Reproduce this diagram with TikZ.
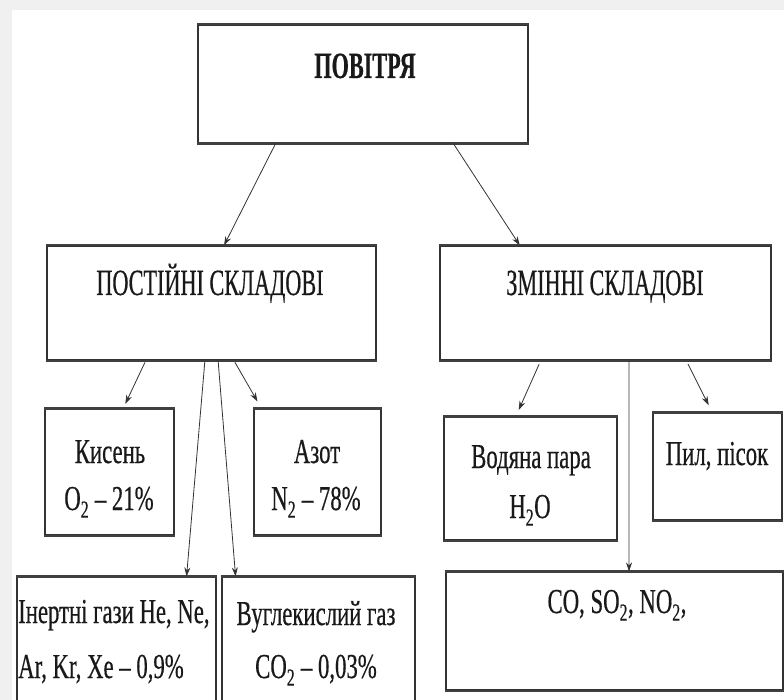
\documentclass[tikz,border=0pt]{standalone}
\usepackage{fontspec}
\setmainfont[FakeStretch=0.6,FakeBold=0.4]{Liberation Serif}
\newfontfamily\lblfont[FakeStretch=0.65,FakeBold=0.4]{Liberation Serif}
\usetikzlibrary{calc,arrows.meta}
\tikzset{
  box/.style={draw=black!80, line width=1.2pt, minimum width=#1, inner sep=0pt},
  ttl/.style={font=\fontsize{37}{40}\selectfont, text=black!90, anchor=base, inner sep=0pt},
  lbl/.style={font=\lblfont\fontsize{35}{40}\selectfont, text=black!90, anchor=base, inner sep=0pt},
  arr/.style={draw=black!80, line width=0.8pt, -{Stealth[length=9pt,width=6pt]}},
  ln/.style={draw=black!80, line width=0.8pt}
}
\begin{document}
\begin{tikzpicture}[x=1pt,y=-1pt]
\useasboundingbox (0,0) rectangle (784,700);
\fill[black!6] (0,0) rectangle (784,700);
\fill[white] (12,10) rectangle (784,700);

% boxes
\node[box=330pt, minimum height=118pt] (air)   at (363,84) {};
\node[box=329pt, minimum height=114pt] (perm)  at (211.5,303) {};
\node[box=331pt, minimum height=114pt] (var)   at (605.5,303) {};
\node[box=129pt, minimum height=126pt] (oxy)   at (109.5,472) {};
\node[box=127pt, minimum height=126pt] (nitro) at (317.5,472) {};
\node[box=199pt, minimum height=130pt] (inert) at (116.5,642) {};
\node[box=193pt, minimum height=130pt] (co2)   at (318.5,642) {};
\node[box=173pt, minimum height=123pt] (water) at (530.5,478.5) {};
\node[box=129pt, minimum height=107pt] (dust)  at (717.5,466.5) {};
\node[box=337pt, minimum height=118pt] (gases) at (614.5,631) {};

\foreach \n in {air,perm,var,oxy,nitro,inert,co2,water,dust,gases}{
  \draw[black!75, line width=2.2pt] (\n.north west) -- (\n.north east);
  \draw[black!75, line width=2.2pt] (\n.south west) -- (\n.south east);
}

% texts
\node[ttl, font=\fontsize{37}{40}\selectfont\bfseries] (tAir) at (365,78) {ПОВІТРЯ};
\node[ttl] (tPerm) at (210,295) {ПОСТІЙНІ СКЛАДОВІ};
\node[ttl] (tVar) at (605,295) {ЗМІННІ СКЛАДОВІ};
\node[lbl] (tOxy1) at (110,463) {Кисень};
\node[lbl] (tOxy2) at (109,510) {O\textsubscript{2} – 21\%};
\node[lbl] (tN1) at (317,463) {Азот};
\node[lbl] (tN2) at (316,510) {N\textsubscript{2} – 78\%};
\node[lbl, anchor=base west] (tIn1) at (18,623) {Інертні гази He, Ne,};
\node[lbl, anchor=base west] (tIn2) at (18,678) {Ar, Kr, Xe – 0,9\%};
\node[lbl] (tC1) at (316,625) {Вуглекислий газ};
\node[lbl] (tC2) at (316,678) {CO\textsubscript{2} – 0,03\%};
\node[lbl] (tW1) at (531,468) {Водяна пара};
\node[lbl] (tW2) at (530,518) {H\textsubscript{2}O};
\node[lbl] (tD) at (717,465) {Пил, пісок};
\node[lbl] (tG) at (617,613) {CO, SO\textsubscript{2}, NO\textsubscript{2},};

% connectors
\draw[arr] ($(air.south west)!0.236!(air.south east)$) -- ($(perm.north west)!0.538!(perm.north east)$);
\draw[arr] ($(air.south west)!0.773!(air.south east)$) -- ($(var.north west)!0.242!(var.north east)$);
\draw[arr, shorten <=2pt, shorten >=5pt] ($(perm.south west)!0.301!(perm.south east)$) -- ($(oxy.north west)!0.605!(oxy.north east)$);
\draw[arr] ($(perm.south west)!0.48!(perm.south east)$) -- ($(inert.north west)!0.85!(inert.north east)$);
\draw[arr] ($(perm.south west)!0.52!(perm.south east)$) -- ($(co2.north west)!0.073!(co2.north east)$);
\draw[arr, shorten <=2pt, shorten >=8pt] ($(perm.south west)!0.568!(perm.south east)$) -- ($(nitro.north west)!0.063!(nitro.north east)$);
\draw[arr, shorten <=4pt, shorten >=7pt] ($(var.south west)!0.305!(var.south east)$) -- ($(water.north west)!0.416!(water.north east)$);
\draw[arr] ($(var.south west)!0.571!(var.south east)$) -- ($(gases.north west)!0.543!(gases.north east)$);
\draw[arr, shorten <=4pt, shorten >=8pt] ($(var.south west)!0.743!(var.south east)$) -- ($(dust.north west)!0.46!(dust.north east)$);
\end{tikzpicture}
\end{document}
